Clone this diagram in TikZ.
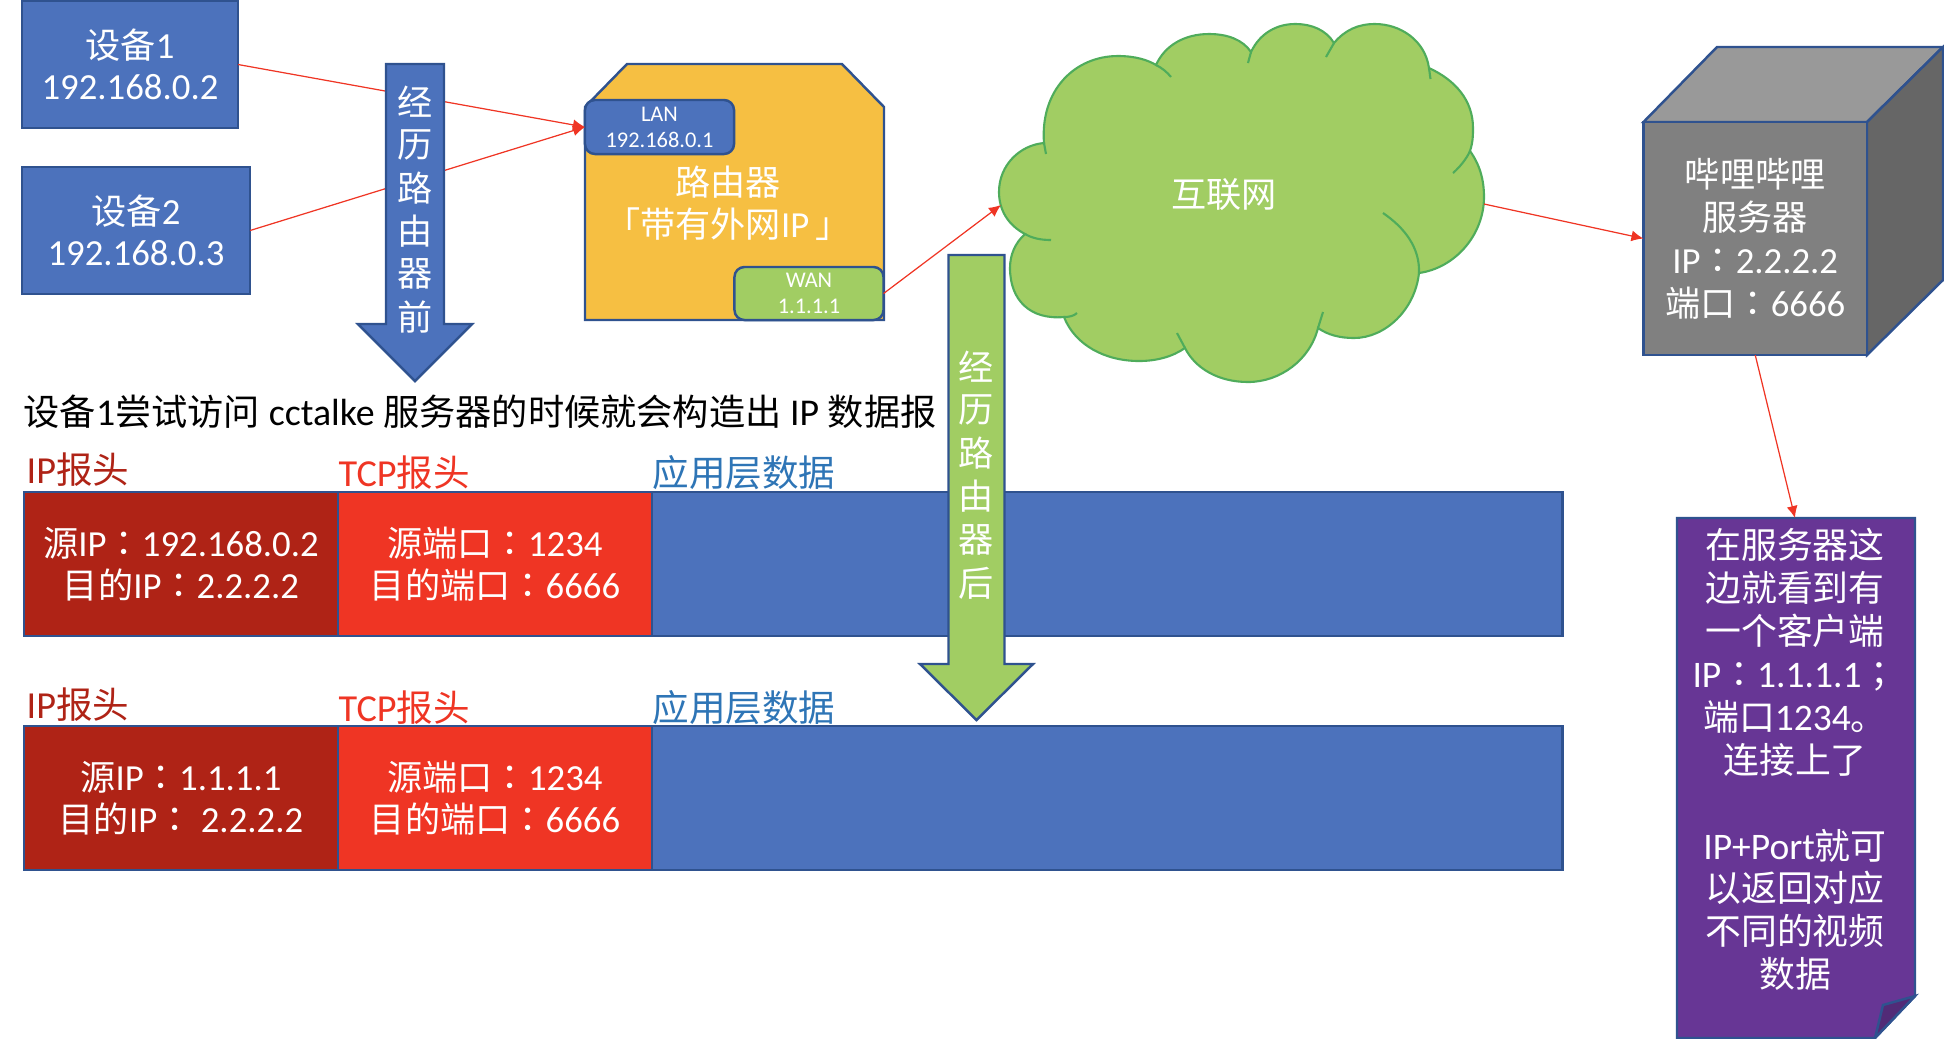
\documentclass[tikz,border=0pt]{standalone}
\usepackage{fontspec}
\setmainfont[Scale=1.045]{Carlito}
\newfontfamily\cjk{Noto Sans CJK SC}
\newfontfamily\cjktc{Noto Sans CJK TC}
\newcommand{\zh}[1]{{\cjk #1}}
\newcommand{\zhc}{{\cjktc ：}}
\newcommand{\zhs}{{\cjktc ；}}
\usetikzlibrary{arrows.meta}

\definecolor{boxblue}{HTML}{4C72BC}
\definecolor{edgeblue}{HTML}{2F528F}
\definecolor{leafgreen}{HTML}{A1CD63}
\definecolor{cloudedge}{HTML}{4FAC5B}
\definecolor{routeryellow}{HTML}{F6BF42}
\definecolor{hotred}{HTML}{EF3524}
\definecolor{darkred}{HTML}{AF2316}
\definecolor{noteviolet}{HTML}{673695}
\definecolor{labelblue}{HTML}{2E75B6}

\tikzset{
  shape edge/.style={draw=edgeblue, line width=0.7pt},
  plain box/.style={shape edge, rectangle, inner sep=0pt, outer sep=0pt, text=white, align=center},
  big text/.style={font=\fontsize{10}{11.8}\selectfont},
  port text/.style={font=\fontsize{6.1}{7.4}\selectfont},
  white text/.style={big text, text=white, align=center, inner sep=0pt},
  send line/.style={draw=hotred, line width=0.35pt, -{Latex[length=1.2mm,width=1.1mm]}},
  head label/.style={font=\fontsize{10.4}{12}\selectfont, anchor=west, inner sep=0pt}
}

\begin{document}
\begin{tikzpicture}[x=0.01cm, y=-0.01cm]
    \useasboundingbox (0,0) rectangle (1944,1038);

    % Devices
    \node[plain box, big text, fill=boxblue, minimum width=2.16cm, minimum height=1.27cm]
      (dev1) at (130,64.5) {\zh{设备}1\\192.168.0.2};
    \node[plain box, big text, fill=boxblue, minimum width=2.28cm, minimum height=1.27cm]
      (dev2) at (136,230.5) {\zh{设备}2\\192.168.0.3};

    % Router body
    \draw[shape edge, fill=routeryellow]
      (585,107) -- (627,64) -- (842,64) -- (884,107) -- (884,320) -- (585,320) -- cycle;
    \node[white text, big text] (routername) at (728,203)
      {\zh{路由器}\\\zh{「带有外网}IP\,\zh{」}};

    % Ports
    \node[plain box, port text, fill=boxblue, rounded corners=1mm, minimum width=1.49cm, minimum height=0.54cm]
      (lan) at (659.5,127) {LAN\\192.168.0.1};
    \node[plain box, port text, fill=leafgreen, rounded corners=1mm, minimum width=1.49cm, minimum height=0.53cm]
      (wan) at (809,293.5) {WAN\\1.1.1.1};

    % Cloud
    \draw[draw=cloudedge, line width=0.6pt, fill=leafgreen]
      (1044,143) .. controls (1040,90) and (1075,56) .. (1118,56)
       .. controls (1135,56) and (1148,60) .. (1156,65)
       .. controls (1165,45) and (1185,34) .. (1209,34)
       .. controls (1228,34) and (1243,40) .. (1251,52)
       .. controls (1260,33) and (1277,24) .. (1295,24)
       .. controls (1312,24) and (1326,30) .. (1334,43)
       .. controls (1345,30) and (1358,24) .. (1375,24)
       .. controls (1400,24) and (1425,40) .. (1429,68)
       .. controls (1455,80) and (1473,100) .. (1473,128)
       .. controls (1473,135) and (1473,142) .. (1470,151)
       .. controls (1480,165) and (1484,180) .. (1484,197)
       .. controls (1484,235) and (1455,268) .. (1419,273)
       .. controls (1415,310) and (1385,338) .. (1354,338)
       .. controls (1340,338) and (1328,335) .. (1318,328)
       .. controls (1310,360) and (1280,382) .. (1248,382)
       .. controls (1218,382) and (1195,368) .. (1185,348)
       .. controls (1172,357) and (1156,361) .. (1139,361)
       .. controls (1105,361) and (1075,345) .. (1064,317)
       .. controls (1030,320) and (1010,300) .. (1010,268)
       .. controls (1010,255) and (1015,243) .. (1025,234)
       .. controls (1008,225) and (999,210) .. (999,192)
       .. controls (999,165) and (1020,145) .. (1044,143) -- cycle;
    % Cloud folds
    \draw[draw=cloudedge, line width=0.6pt]
      (1044,143) -- (1046,154)
      (1156,65) .. controls (1162,68) and (1167,72) .. (1171,77)
      (1251,52) -- (1248,63)
      (1334,43) -- (1326,57)
      (1429,68) -- (1430.5,79)
      (1470,151) .. controls (1467,158) and (1460,167) .. (1453,173)
      (1419,273) .. controls (1420,248) and (1405,228) .. (1383,213)
      (1318,328) -- (1323,312)
      (1185,348) -- (1177,333)
      (1064,317) .. controls (1069,317) and (1074,316) .. (1077,313)
      (1025,234) .. controls (1032,238) and (1040,240) .. (1051,240);
    \node[white text] (cloudname) at (1224,195) {\zh{互联网}};
    \coordinate (cloudwest) at (1001,205);
    \coordinate (cloudeast) at (1484,204);

    % Server cube
    \draw[shape edge, fill=black!40]
      (1643.5,122) -- (1717,47) -- (1943,47) -- (1867,122) -- cycle;
    \draw[shape edge, fill=black!60]
      (1867,122) -- (1943,47) -- (1943,280) -- (1867,355) -- cycle;
    \node[plain box, fill=black!50, minimum width=2.235cm, minimum height=2.33cm, font=\fontsize{10}{12.2}\selectfont]
      (server) at (1755.25,238.5)
      {\zh{哔哩哔哩}\\\zh{服务器}\\IP\zhc 2.2.2.2\\\zh{端口}\zhc 6666};

    % Note with folded corner
    \draw[shape edge, fill=noteviolet]
      (1677,518) -- (1915,518) -- (1915,996) -- (1875,1038) -- (1677,1038) -- cycle;
    \draw[shape edge, fill=noteviolet!80!black]
      (1915,996) -- (1883,1005) -- (1875,1038) -- cycle;
    \node[white text, font=\fontsize{10.2}{12.2}\selectfont] (notetext) at (1795,759.5)
      {\zh{在服务器这}\\\zh{边就看到有}\\\zh{一个客户端}\\IP\zhc 1.1.1.1\zhs\\\zh{端口}1234\zh{。}\\\zh{连接上了}\\[12.2pt]%
       IP+Port\zh{就可}\\\zh{以返回对应}\\\zh{不同的视频}\\\zh{数据}};
    \coordinate (notetop) at (1795,518);

    % Connectors
    \draw[send line] (dev1.east) -- (lan.west);
    \draw[send line] (dev2.east) -- (lan.west);
    \draw[send line] (wan.east) -- (cloudwest);
    \draw[send line] (cloudeast) -- (server.west);
    \draw[send line] (server.south) -- (notetop);

    % Sentence
    \node[font=\fontsize{10.3}{12}\selectfont, anchor=west, inner sep=0pt] (sentence) at (23,412)
      {\zh{设备}1\zh{尝试访问} cctalke \zh{服务器的时候就会构造出} IP \zh{数据报}};

    % Packet rows
    \foreach \row/\rowy/\labely/\srcip/\dstip in {
        one/564/470/192.168.0.2/2.2.2.2,
        two/798/705/1.1.1.1/\ 2.2.2.2} {
      \node[plain box, fill=boxblue, minimum width=9.1cm, minimum height=1.44cm]
        (data\row) at (1107,\rowy) {};
      \node[plain box, big text, fill=darkred, minimum width=3.135cm, minimum height=1.44cm]
        (ip\row) at (181,\rowy) {\zh{源}IP\zhc\srcip\\\zh{目的}IP\zhc\dstip};
      \node[plain box, big text, fill=hotred, minimum width=3.14cm, minimum height=1.44cm]
        (tcp\row) at (495,\rowy) {\zh{源端口}\zhc 1234\\\zh{目的端口}\zhc 6666};
      \node[head label, text=darkred] (iplabel\row) at (26,\labely) {IP\zh{报头}};
      \node[head label, text=hotred] (tcplabel\row) at (338,\labely+3) {TCP\zh{报头}};
      \node[head label, text=labelblue] (datalabel\row) at (652,\labely+3) {\zh{应用层数据}};
    }

    % Before router arrow
    \draw[shape edge, fill=boxblue]
      (386,64) -- (444,64) -- (444,324) -- (472,324) -- (415,381) -- (358,324) -- (386,324) -- cycle;
    % After router arrow
    \draw[shape edge, fill=leafgreen]
      (948.5,255) -- (1004.5,255) -- (1004.5,664) -- (1033,664) -- (976.5,720) -- (920,664) -- (948.5,664) -- cycle;

    % Arrow captions
    \foreach \ch [count=\i from 0] in {经,历,路,由,器,前} {
      \node[white text] (beforech\i) at (415,102+43*\i) {\zh{\ch}};
    }
    \foreach \ch [count=\i from 0] in {经,历,路,由,器,后} {
      \node[white text] (afterch\i) at (976.5,367+43.2*\i) {\zh{\ch}};
    }
  \end{tikzpicture}
\end{document}
